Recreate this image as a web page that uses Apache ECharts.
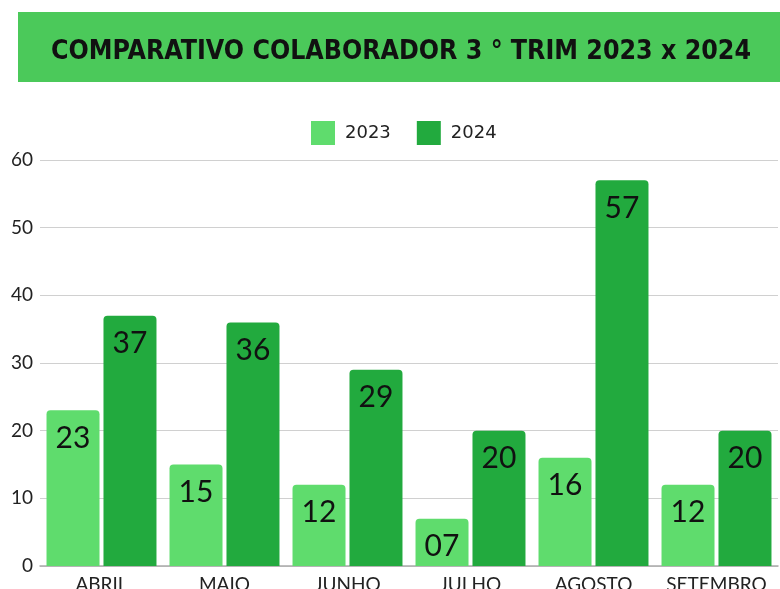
<!DOCTYPE html>
<html>
<head>
<meta charset="utf-8">
<script src="https://cdn.jsdelivr.net/npm/echarts@6/dist/echarts.min.js"></script>
<style>html,body{margin:0;padding:0;background:#fff}#chart{width:780px;height:589px}</style>
</head>
<body>
<div id="chart"></div>
<script>
const months = ['ABRIL', 'MAIO', 'JUNHO', 'JULHO', 'AGOSTO', 'SETEMBRO'];
const vals2023 = [23, 15, 12, 7, 16, 12];
const vals2024 = [37, 36, 29, 20, 57, 20];
const yTicks = { min: 0, max: 60, interval: 10 };

const chart = echarts.init(document.getElementById('chart'));
const lbl = {
  show: true, position: 'insideTop', distance: 13, color: '#111', fontSize: 30,
  fontFamily: 'Lato, sans-serif',
  formatter: p => String(p.value).padStart(2, '0')
};
chart.setOption({
  backgroundColor: '#fff',
  animation: false,
  graphic: [{ type: 'rect', shape: { x: 18, y: 12, width: 762, height: 70 }, style: { fill: '#4bc95a' }, z: -1 }],
  title: {
    text: 'COMPARATIVO COLABORADOR 3 ° TRIM 2023 x 2024', left: 396, top: 47, textAlign: 'center', textVerticalAlign: 'middle',
    textStyle: { fontSize: 26.5, fontWeight: 'bold', color: '#111', fontFamily: 'DejaVu Sans Condensed, sans-serif' }
  },
  legend: {
    data: ['2023', '2024'], left: 306, top: 116, itemWidth: 24, itemHeight: 24, itemGap: 26, icon: 'rect',
    textStyle: { fontSize: 18, color: '#222', fontFamily: 'DejaVu Sans, sans-serif', padding: [0, 0, 0, 5] }
  },
  grid: { left: 40, right: 2, top: 160, bottom: 23, containLabel: false, outerBoundsMode: 'none' },
  xAxis: {
    type: 'category', data: months,
    axisLine: { lineStyle: { color: '#aaa', width: 1.5 } }, axisTick: { show: false },
    axisLabel: { interval: 0, fontSize: 19, color: '#222', margin: 9, fontFamily: 'Lato, sans-serif' }
  },
  yAxis: {
    type: 'value', min: yTicks.min, max: yTicks.max, interval: yTicks.interval,
    axisLabel: { fontSize: 19, color: '#222', margin: 7, fontFamily: 'Lato, sans-serif' },
    splitLine: { lineStyle: { color: '#d0d0d0', width: 1 } }
  },
  series: [
    { name: '2023', type: 'bar', data: vals2023, barGap: '7.5%', barCategoryGap: '10.6%',
      itemStyle: { color: '#5fdc6d', borderRadius: [4, 4, 0, 0] }, label: lbl },
    { name: '2024', type: 'bar', data: vals2024,
      itemStyle: { color: '#22aa3e', borderRadius: [4, 4, 0, 0] }, label: lbl }
  ]
});
</script>
</body>
</html>
